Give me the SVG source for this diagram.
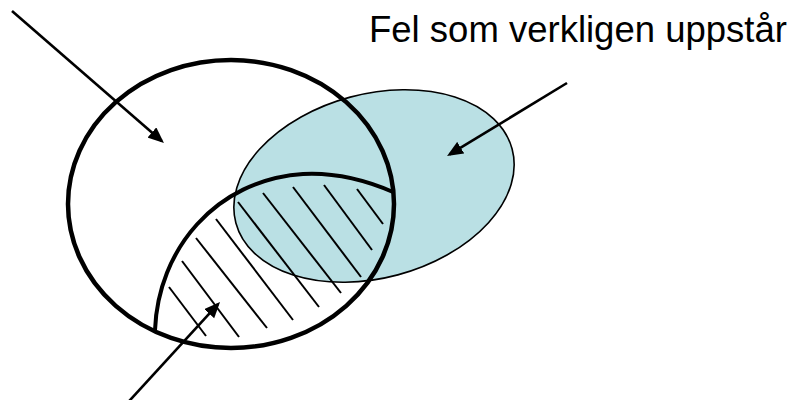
<svg xmlns="http://www.w3.org/2000/svg" width="796" height="400" viewBox="0 0 796 400">
  <style>
    .label { font-family: "Liberation Sans", Arial, sans-serif; font-size: 36.5px; fill: #000; }
    .set-outline { fill: none; stroke: #000; stroke-width: 4.5; }
    .actual { fill: #BAE0E4; stroke: #000; stroke-width: 1.6; }
    .boundary { fill: none; stroke: #000; stroke-width: 4; }
    .hatch line { stroke: #000; stroke-width: 2; stroke-linecap: butt; }
    .arrow { stroke: #000; stroke-width: 2.6; fill: none; marker-end: url(#head); }
  </style>
  <defs>
    <marker id="head" markerUnits="userSpaceOnUse" markerWidth="16" markerHeight="14" refX="13" refY="6.75" orient="auto">
      <path d="M0,0 L16,6.75 L0,13.5 Z" fill="#000"/>
    </marker>
  </defs>

  <rect width="796" height="400" fill="#fff"/>

  <!-- errors that actually occur -->
  <g id="actual-errors">
    <ellipse class="actual" cx="374" cy="186" rx="143" ry="92" transform="rotate(-15 374 186)"/>
  </g>

  <!-- large outlined set -->
  <g id="large-set">
    <ellipse class="set-outline" cx="231" cy="204" rx="163" ry="144"/>
  </g>

  <!-- hatched subset bounded by the curve and the lower arc -->
  <g id="hatched-subset">
    <path class="boundary" d="M155,330 C158,250 215,180 303,174 C340,172 370,182 393,192"/>
    <g class="hatch">
      <line x1="169" y1="287" x2="206" y2="336"/>
      <line x1="182" y1="261" x2="239" y2="337"/>
      <line x1="196" y1="238" x2="267" y2="328"/>
      <line x1="216" y1="219" x2="293" y2="320"/>
      <line x1="238" y1="202" x2="319" y2="307"/>
      <line x1="263" y1="193" x2="341" y2="293"/>
      <line x1="293" y1="187" x2="361" y2="277"/>
      <line x1="324" y1="185" x2="372" y2="250"/>
      <line x1="357" y1="189" x2="383" y2="224"/>
    </g>
  </g>

  <g id="title">
    <text class="label" x="369" y="42">Fel som verkligen uppstår</text>
  </g>

  <!-- pointers -->
  <g id="connectors">
    <line class="arrow" x1="12" y1="11" x2="161.7" y2="141"/>
    <line class="arrow" x1="567" y1="83" x2="449.6" y2="154.4"/>
    <line class="arrow" x1="128.3" y1="402" x2="218" y2="304.2"/>
  </g>
</svg>
